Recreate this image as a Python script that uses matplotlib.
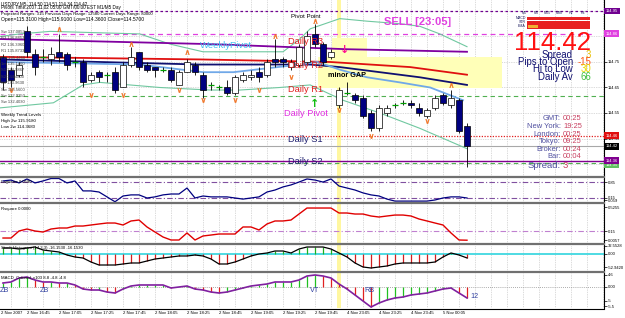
import matplotlib
matplotlib.use("Agg")
import matplotlib.pyplot as plt
from matplotlib.patches import Rectangle
from matplotlib.lines import Line2D

plt.rcParams['font.family'] = ['Liberation Sans', 'DejaVu Sans']

# ---- M5 candles, bar 0 = 2 Nov 16:30 ----
opens  = [114.77,114.72,114.70,114.87,114.78,114.77,114.76,114.79,114.78,114.75,
          114.75,114.68,114.71,114.70,114.71,114.65,114.74,114.79,114.74,114.73,
          114.72,114.72,114.66,114.71,114.74,114.70,114.66,114.65,114.65,114.63,
          114.68,114.69,114.71,114.70,114.76,114.76,114.73,114.74,114.75,114.86,
          114.82,114.77,114.58,114.63,114.62,114.61,114.55,114.49,114.55,114.58,
          114.59,114.59,114.57,114.54,114.57,114.62,114.58,114.60,114.50]
highs  = [114.78,114.73,114.75,114.89,114.80,114.80,114.81,114.86,114.79,114.77,
          114.76,114.71,114.72,114.71,114.73,114.75,114.81,114.79,114.75,114.73,
          114.73,114.73,114.72,114.76,114.75,114.71,114.67,114.66,114.68,114.70,
          114.71,114.72,114.73,114.76,114.84,114.77,114.76,114.82,114.87,114.90,
          114.83,114.80,114.65,114.67,114.63,114.62,114.56,114.58,114.58,114.59,
          114.60,114.60,114.59,114.57,114.62,114.63,114.64,114.61,114.51]
lows   = [114.64,114.65,114.69,114.77,114.70,114.75,114.74,114.75,114.72,114.73,
          114.65,114.67,114.67,114.67,114.63,114.65,114.73,114.72,114.71,114.69,
          114.71,114.67,114.66,114.71,114.70,114.61,114.64,114.64,114.62,114.62,
          114.67,114.68,114.67,114.69,114.73,114.73,114.72,114.73,114.74,114.81,
          114.74,114.76,114.57,114.62,114.59,114.53,114.48,114.48,114.54,114.57,
          114.58,114.57,114.54,114.53,114.56,114.58,114.57,114.47,114.34]
closes = [114.67,114.68,114.74,114.79,114.73,114.77,114.78,114.77,114.74,114.75,
          114.67,114.70,114.69,114.70,114.64,114.74,114.77,114.73,114.72,114.72,
          114.72,114.68,114.71,114.75,114.71,114.64,114.66,114.65,114.63,114.69,
          114.70,114.70,114.69,114.75,114.75,114.75,114.75,114.81,114.85,114.82,
          114.75,114.79,114.64,114.63,114.60,114.54,114.49,114.57,114.57,114.58,
          114.59,114.58,114.55,114.56,114.61,114.59,114.61,114.48,114.42]

frac_up_bar = [7, 16, 23, 34, 39, 56]
frac_up_px  = [114.88, 114.82, 114.79, 114.85, 114.91, 114.66]
frac_dn_bar = [1, 11, 15, 22, 25, 29, 32, 36, 42, 46, 53]
frac_dn_px  = [114.64, 114.62, 114.62, 114.64, 114.60, 114.60, 114.64, 114.69, 114.56, 114.46, 114.52]

# moving averages / bands (bar index, price)
ma_purple_x = [-0.4, 26, 43, 58]
ma_purple_y = [114.84, 114.82, 114.80, 114.79]
ma_red_x = [-0.4, 24.6, 40.9, 50.9, 58]
ma_red_y = [114.77, 114.76, 114.75, 114.73, 114.70]
ma_navy_x = [-0.4, 24.6, 38.4, 42.1, 52.1, 58]
ma_navy_y = [114.76, 114.74, 114.74, 114.73, 114.69, 114.66]
ma_sky_x = [-0.4, 17.1, 25, 28.8, 37.1, 39.3, 42.1, 45.5, 49.6, 53.4, 57.5]
ma_sky_y = [114.75, 114.74, 114.71, 114.71, 114.74, 114.75, 114.72, 114.69, 114.67, 114.65, 114.60]
band_up_x = [-0.4, 2.1, 5.9, 17.1, 20.9, 25, 29.6, 35, 37.1, 38.4, 42.1, 45.5, 49.6, 52.1, 54.6, 58]
band_up_y = [114.85, 114.86, 114.87, 114.86, 114.82, 114.79, 114.79, 114.79, 114.84, 114.88,
             114.92, 114.91, 114.90, 114.89, 114.86, 114.81]
band_lo_x = [-0.4, 6.3, 10, 12.1, 19.6, 25.9, 29.6, 34.6, 38.4, 42.5, 47.1, 52.1, 58]
band_lo_y = [114.57, 114.59, 114.66, 114.67, 114.65, 114.64, 114.64, 114.65, 114.66, 114.60,
             114.55, 114.49, 114.41]

# indicator panels, one value per bar
laguerre = [0.92,0.96,0.83,1.01,0.83,0.92,1.03,1.03,0.83,0.92,0.47,0.47,0.42,0.20,-0.02,
            0.24,0.29,0.29,0.15,0.20,0.29,0.33,0.33,0.60,0.15,0.24,0.20,0.20,0.20,0.15,
            0.10,0.15,0.20,0.42,0.51,0.65,0.74,0.87,1.01,0.96,0.87,1.01,0.69,0.60,0.51,
            0.38,0.29,0.24,0.10,0.01,0.01,0.01,0.01,0.01,0.06,0.15,0.20,0.20,0.15]
rsquare = [0.040,0.040,0.150,0.181,0.150,0.134,0.181,0.197,0.197,0.228,0.228,0.244,0.260,
           0.275,0.275,0.244,0.307,0.322,0.213,0.134,0.056,0.009,0.009,0.119,0.009,0.072,
           0.087,0.103,0.103,0.103,0.213,0.213,0.166,0.260,0.307,0.307,0.322,0.416,0.510,
           0.510,0.510,0.510,0.432,0.432,0.416,0.416,0.385,0.369,0.385,0.400,0.400,0.385,
           0.338,0.307,0.275,0.244,0.119,0.009,0.0057]
stoch = [24.4,24.4,20.3,24.4,28.5,16.3,12.2,8.1,-4.1,-12.2,-16.3,-32.6,-44.8,-44.8,-44.8,
         -40.7,-36.6,-36.6,-28.5,-20.4,-16.3,-12.2,-8.1,-8.1,-4.1,-8.1,-20.4,-40.7,-40.7,
         -32.6,-20.4,-8.1,0.0,4.1,12.2,12.2,4.1,20.3,28.5,28.5,28.5,20.3,4.1,-12.2,-36.6,
         -52.9,-57.0,-52.9,-48.8,-40.7,-36.6,-36.6,-36.6,-36.6,-32.6,-12.2,4.1,-4.1,-16.15]
macd = [1.53,1.92,3.45,3.83,2.68,1.92,1.92,1.53,1.53,0.77,-0.77,-1.15,-1.15,-1.92,-2.30,
        -0.77,0.38,0.77,0.77,0.77,0.77,-0.38,0.0,0.38,-0.77,-1.15,-1.92,-2.30,-1.92,-1.15,
        -0.38,0.38,0.77,1.15,1.92,1.92,1.92,2.68,4.21,4.60,4.21,3.45,1.15,-0.77,-3.06,
        -5.36,-7.66,-6.13,-4.98,-4.21,-3.83,-3.06,-2.68,-2.30,-1.53,-0.77,-0.38,-2.30,-4.21]

time_bars = [3, 7, 11, 15, 19, 23, 27, 31, 35, 39, 43, 47, 51, 55]
time_labels = ["2 Nov 16:45", "2 Nov 17:05", "2 Nov 17:25", "2 Nov 17:45", "2 Nov 18:05",
               "2 Nov 18:25", "2 Nov 18:45", "2 Nov 19:05", "2 Nov 19:25", "2 Nov 19:45",
               "4 Nov 23:05", "4 Nov 23:25", "4 Nov 23:45", "5 Nov 00:05"]

W, H = 625.0, 318.0
XR = 604.0
fig = plt.figure(figsize=(6.25, 3.18), dpi=100)
fig.patch.set_facecolor('white')


def panel(top, bottom, ylim):
    a = fig.add_axes([0, 1 - bottom / H, XR / W, (bottom - top) / H])
    a.set_xlim(-0.375, 75.125)
    a.set_ylim(*ylim)
    for s in ['left', 'top', 'bottom']:
        a.spines[s].set_visible(False)
    a.spines['right'].set_linewidth(0.8)
    a.set_xticks([])
    a.yaxis.tick_right()
    a.tick_params(axis='y', length=2, width=0.5, labelsize=3, pad=1)
    for b in range(1, 76, 2):
        a.axvline(b, color='#b8b8b8', ls=(0, (1, 1.5)), lw=0.5, zorder=0.3)
    a.axvspan(41.7, 42.3, color='#fff7a0', lw=0, zorder=0.4)
    return a


def ftext(x, y, s, **kw):
    kw.setdefault('va', 'center')
    fig.text(x / W, 1 - y / H, s, **kw)


def frect(x0, y0, x1, y1, c):
    fig.add_artist(Rectangle((x0 / W, 1 - y1 / H), (x1 - x0) / W, (y1 - y0) / H,
                             transform=fig.transFigure, fc=c, ec='none'))


# ---------- main price chart ----------
ax = panel(0, 176, (114.303, 114.993))
ax.add_patch(Rectangle((39.4, 114.648), 23.0, 0.121, fc='#ffffb8', ec='none', zorder=0.5))
ax.add_patch(Rectangle((41.1, 114.769), 4.4, 0.075, fc='#ffffb8', ec='none', zorder=0.5))
for p in [114.35, 114.45, 114.55, 114.65, 114.75, 114.85, 114.95]:
    ax.axhline(p, color='#b8b8b8', ls=(0, (1, 1.5)), lw=0.5, zorder=0.3)
ax.set_yticks([114.45, 114.55, 114.65, 114.75])
ax.set_yticklabels(["114.45", "114.55", "114.65", "114.75"])

ax.axhline(114.95, color='#700090', ls=(0, (2, 2)), lw=0.9, zorder=2)
ax.axhline(114.86, color='#e040e0', ls=(0, (4, 3)), lw=0.9, zorder=2, xmax=0.985)
ax.axhline(114.617, color='#50b050', ls=(0, (4, 3)), lw=0.8, zorder=2)
ax.axhline(114.46, color='#e02020', ls=(0, (1, 1.2)), lw=0.9, zorder=2)
ax.axhline(114.42, color='#a8a8a8', lw=0.8, zorder=2)
ax.axhline(114.362, color='#800090', lw=1.0, zorder=2)
ax.axhline(114.354, color='#50b050', ls=(0, (4, 3)), lw=0.8, zorder=2)

ax.plot(band_up_x, band_up_y, color='#70c8a0', lw=0.8, zorder=2)
ax.plot(band_lo_x, band_lo_y, color='#70c8a0', lw=0.8, zorder=2)
ax.plot(ma_purple_x, ma_purple_y, color='#8000a0', lw=1.3, zorder=2)
ax.plot(ma_red_x, ma_red_y, color='#e01010', lw=1.3, zorder=2)
ax.plot(ma_navy_x, ma_navy_y, color='#101070', lw=1.3, zorder=2)
ax.plot(ma_sky_x, ma_sky_y, color='#70a8e8', lw=1.3, zorder=2)

for i in range(len(opens)):
    o, h, l, c = opens[i], highs[i], lows[i], closes[i]
    ax.vlines(i, l, h, color='black', lw=0.6, zorder=4)
    if o == c:
        ax.hlines(o, i - 0.32, i + 0.32, color='#00a000', lw=0.9, zorder=5)
    else:
        fc = 'white' if c > o else '#000080'
        ax.add_patch(Rectangle((i - 0.32, min(o, c)), 0.64, abs(c - o),
                               fc=fc, ec='black', lw=0.5, zorder=5))

ax.plot(frac_up_bar, frac_up_px, ls='none', marker=r'$\wedge$', color='#f07020', ms=3.2,
        mew=0.3, zorder=6)
ax.plot(frac_dn_bar, frac_dn_px, ls='none', marker=r'$\vee$', color='#f07020', ms=3.2,
        mew=0.3, zorder=6)

ytr = ax.get_yaxis_transform()
for s, p, c in [("114.95", 114.95, '#700090'), ("114.86", 114.86, '#e040e0'),
                ("114.46", 114.46, '#e01010'), ("114.42", 114.42, 'black'),
                ("114.35", 114.347, '#60c060'), ("114.36", 114.362, '#800090')]:
    ax.text(1.003, p, s, transform=ytr, fontsize=3, color='white', va='center', ha='left',
            bbox=dict(boxstyle='square,pad=0.35', fc=c, ec='none'), clip_on=False, zorder=8)

# ---------- Laguerre ----------
a2 = panel(178, 202, (-0.031, 1.053))
for lv in [0.85, 0.15]:
    a2.axhline(lv, color='#8050a0', ls=(0, (5, 2, 1, 2)), lw=0.8)
a2.plot(range(len(laguerre)), laguerre, color='#000080', lw=0.9, zorder=3)
a2.set_yticks([0.85, 0.15, 0.059])
a2.set_yticklabels(["0.85", "0.15", "0.059"])

# ---------- Rsquare ----------
a3 = panel(204, 243, (-0.038, 0.573))
a3.axhline(0.15, color='#c080d0', ls=(0, (5, 2, 1, 2)), lw=0.8)
a3.plot(range(len(rsquare)), rsquare, color='#e00000', lw=1.0, zorder=3)
a3.set_yticks([0.5255, 0.15, 0.0057])
a3.set_yticklabels(["0.5255", "0.15", "0.0057"])

# ---------- Stoch histogram ----------
a4 = panel(245, 271, (-69.2, 36.6))
a4.axhline(0, color='#40d8e0', lw=1.3, zorder=2)
a4.vlines(range(len(stoch)), 0, stoch, colors=['#20b020' if v > 0 else '#d02020' for v in stoch],
          lw=0.9, zorder=2.5)
a4.plot(range(len(stoch)), stoch, color='black', lw=0.9, zorder=3)
a4.set_yticks([32.5528, 0, -52.942])
a4.set_yticklabels(["32.5528", "0.00", "-52.9420"])

# ---------- MACD colored ----------
a5 = panel(273, 308, (-8.04, 5.36))
a5.axhline(0, color='#909090', ls=(0, (1, 1.5)), lw=0.6)
mcol = ['#20c020'] + ['#20c020' if macd[k] >= macd[k - 1] else '#e02020' for k in range(1, len(macd))]
a5.vlines(range(len(macd)), 0, macd, colors=mcol, lw=0.9, zorder=2.5)
a5.plot(range(len(macd)), macd, color='#8020a0', lw=1.2, zorder=3)
a5.set_yticks([4.6, 0, -5.36, -7.28])
a5.set_yticklabels(["4.6", "0.00", "-5", "-5.5"])

for b, s in zip(time_bars, time_labels):
    a5.text(b, -0.14, s, transform=a5.get_xaxis_transform(), fontsize=3.1, ha='left', va='center',
            clip_on=False)
ftext(1, 313.2, "2 Nov 2007", fontsize=3.1, ha='left')

# separators
for yy in [177, 203, 244, 272]:
    fig.add_artist(Line2D([0, XR / W], [1 - yy / H] * 2, transform=fig.transFigure,
                          color='#707070', lw=1.6))
fig.add_artist(Line2D([0, XR / W], [1 - 308.5 / H] * 2, transform=fig.transFigure,
                      color='black', lw=0.8))

# ---------- texts on main chart ----------
ftext(1, 4, "USDJPY,M5  114.50 114.51 114.34 114.42", fontsize=3.3, color='black')
ftext(1, 8, "Pivots Time:2007.11.02 05:00 GMT/00:00 EST M1/M5 Day", fontsize=3.3, color='black')
ftext(1, 14, "Projected Ranges: 315 Previous Days Range: 12580 Current Days Range: 80000",
      fontsize=3.1, color='black')
ftext(1, 20, "Open=115.3100 High=115.9100 Low=114.3600 Close=114.5700", fontsize=3.6, color='black')
pivot_rows = ["Sw 137.0853", "R3 136.8853", "R2 136.3960", "R1 135.8733", "Pvt 135.4460",
              "1m 135.1460", "S1 134.9867", "S2 134.4800", "S3 133.9630", "Sw 133.5600",
              "Sw 132.9350", "Sw 132.4030"]
for k, s in enumerate(pivot_rows):
    ftext(1, 32 + k * 6.4, s, fontsize=3, color='#404040')
ftext(1, 115, "Weekly Trend Levels", fontsize=3.2, color='black')
ftext(1, 121, "High 2w 115.9180", fontsize=3.2, color='black')
ftext(1, 127, "Low 2w 114.3680", fontsize=3.2, color='black')

ftext(200, 45, "WeeklyPivot", fontsize=6.8, color='#40c0f0')
ftext(288, 41, "Daily R3", fontsize=6.7, color='#e02020')
ftext(288, 65, "Daily R2", fontsize=6.7, color='#e02020')
ftext(288, 90, "Daily R1", fontsize=6.7, color='#e02020')
ftext(284, 114, "Daily Pivot", fontsize=6.7, color='#e030e0')
ftext(288, 139, "Daily S1", fontsize=6.7, color='#202070')
ftext(288, 162, "Daily S2", fontsize=6.7, color='#202070')
ftext(291, 16, "Pivot Point", fontsize=4.4, color='black')
ftext(328, 76, "minor GAP", fontsize=5.2, color='black', weight='bold')
ftext(384, 22, "SELL [23:05]", fontsize=8, color='#e040e0', weight='bold')
ftext(345, 50, "\u2193", fontsize=8, color='#ff1090', ha='center', weight='bold',
      family=['DejaVu Sans'])
ftext(315, 104, "\u2191", fontsize=8, color='#10c010', ha='center', weight='bold',
      family=['DejaVu Sans'])

# signal grid
for k, s in enumerate(["M1", "M5", "M15", "M30", "H1", "H4"]):
    ftext(524 + k * 11.8, 13.5, s, fontsize=2.6, color='#202060', ha='center')
for k, s in enumerate(["MACD", "STR", "EMA"]):
    ftext(526, 18 + k * 4.2, s, fontsize=2.6, color='#202060', ha='right')
frect(527, 16.5, 590, 19.5, '#e82020')
frect(527, 20.5, 590, 23.5, '#e82020')
frect(527, 24.5, 590, 29, '#e82020')
frect(528, 25.5, 538, 28, '#f0b030')

ftext(591, 43.5, "114.42", fontsize=18.5, color='#ff1010', ha='right')
for k, (lab, val, vc) in enumerate([("Spread", "3", '#e8c000'), ("Pips to Open", "-15", '#ff5010'),
                                    ("Hi to Low", "30", '#e8d800'), ("Daily Av", "66", '#40c040')]):
    ftext(573, 54.5 + k * 7.4, lab, fontsize=6.9, color='#101070', ha='right')
    ftext(591, 54.5 + k * 7.4, val, fontsize=6.9, color=vc, ha='right')

for k, (lab, val) in enumerate([("GMT:", "00:25"), ("New York:", "19:25"), ("London:", "00:25"),
                                ("Tokyo:", "09:25"), ("Broker:", "00:24"), ("Bar:", "00:04")]):
    ftext(561, 119 + k * 7.6, lab, fontsize=5.4, color='#5050a0', ha='right')
    ftext(563, 119 + k * 7.6, val, fontsize=5.4, color='#c84060', ha='left')
ftext(561, 165, "Spread:", fontsize=6.8, color='#5050a0', ha='right')
ftext(563, 165, "3", fontsize=6.8, color='#c84060', ha='left')

# ---------- panel labels ----------
ftext(1, 182, "Laguerre 0.0590", fontsize=3.1, color='black')
ftext(1, 209, "Rsquare 0.0000", fontsize=3.1, color='black')
ftext(1, 248, "Stoch Histogram (14,3,3) -16.1530 -16.1530", fontsize=3.1, color='black')
ftext(1, 277, "MACD_Colored_v103 8.8 -4.8 -4.8", fontsize=3.1, color='black')
for x, y, s in [(0, 291, "ZB"), (40, 291, "ZB"), (310, 291, "VT"), (364, 290, "RB"), (470, 297, "12")]:
    ftext(x, y, s, fontsize=5.2, color='#3040a0')

fig.savefig("out.png", dpi=100)
